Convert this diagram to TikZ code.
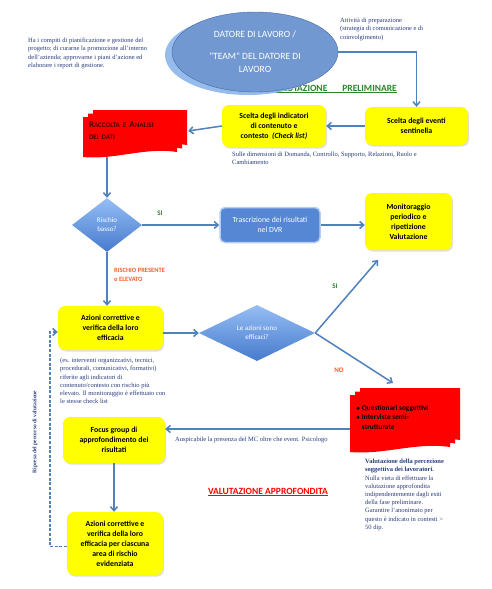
\documentclass[tikz,border=0pt]{standalone}
\usepackage{fontspec}
\setmainfont{Liberation Serif}
\newfontfamily\boxfont{Carlito}
\usetikzlibrary{shapes.geometric, arrows.meta, positioning, calc, shadows}

\definecolor{boxyellow}{RGB}{255, 255, 0}
\definecolor{flowblue}{RGB}{79, 129, 189}
\definecolor{ellblue}{RGB}{113, 152, 208}
\definecolor{ellline}{RGB}{70, 105, 165}
\definecolor{ellshade}{RGB}{150, 188, 236}
\definecolor{diamtop}{RGB}{150, 190, 245}
\definecolor{diambot}{RGB}{70, 122, 205}
\definecolor{dvrblue}{RGB}{85, 135, 212}
\definecolor{dvrline}{RGB}{180, 205, 240}
\definecolor{noteblue}{RGB}{40, 60, 125}
\definecolor{okgreen}{RGB}{40, 135, 40}
\definecolor{warnorange}{RGB}{245, 95, 45}
\definecolor{docred}{RGB}{255, 0, 0}
\definecolor{doctext}{RGB}{70, 0, 0}

\newcommand{\smc}[1]{{\fontsize{7}{12}\selectfont #1}}

\tikzset{
  yellowbox/.style={fill=boxyellow, rounded corners=7pt, align=center, inner sep=2pt,
    font=\boxfont\bfseries\fontsize{7.8}{10}\selectfont,
    drop shadow={opacity=0.25, shadow xshift=1pt, shadow yshift=-1.5pt}},
  dvrbox/.style={draw=dvrline, line width=1.5pt, fill=dvrblue, rounded corners=5pt, align=center,
    text=white, font=\boxfont\fontsize{7.8}{10}\selectfont},
  decision/.style={diamond, top color=diamtop, bottom color=diambot, inner sep=0pt, align=center,
    text=white, font=\boxfont\fontsize{7}{9}\selectfont},
  notetext/.style={align=left, inner sep=0pt, text=noteblue, font=\fontsize{6.5}{8.2}\selectfont},
  doclabel/.style={align=left, inner sep=0pt, font=\boxfont\bfseries\fontsize{7.3}{9.5}\selectfont},
  phasetitle/.style={inner sep=0pt, font=\boxfont\bfseries\fontsize{9.5}{11}\selectfont},
  choice/.style={inner sep=0pt, align=left, font=\boxfont\bfseries\fontsize{7}{8.5}\selectfont},
  flow/.style={draw=flowblue, line width=1.5pt, -{Straight Barb[length=4pt, width=7pt]}},
  backflow/.style={flow, dash pattern=on 3pt off 1.6pt},
  pics/docstack/.style args={#1/#2}{code={
    \foreach \o in {2,1,0}{
      \pgfmathsetmacro{\ox}{5*\o}
      \pgfmathsetmacro{\oy}{7-3.5*\o}
      \fill[docred] (\ox,\oy) -- ({\ox+#1-10},\oy) -- ({\ox+#1-10},{\oy+#2-12})
        .. controls ({\ox+0.65*(#1-10)},{\oy+#2-17}) and ({\ox+0.35*(#1-10)},{\oy+#2-4}) .. (\ox,{\oy+#2-7}) -- cycle;
    }
  }}
}

\begin{document}
\begin{tikzpicture}[x=1pt, y=-1pt]
  % sfondo e margini
  \fill[white] (0,0) rectangle (491,589);
  \useasboundingbox (0,0) rectangle (491,589);

  % fase preliminare
  \node[phasetitle, text=okgreen, anchor=east] (prelim) at (397,89) {\underline{VALUTAZIONE\hspace{15pt}PRELIMINARE}};

  % datore di lavoro
  \node[ellipse, fill=ellshade, minimum width=166pt, minimum height=80pt] (datoreombra) at (248,55) {};
  \node[ellipse, draw=ellline, fill=ellblue, minimum width=166pt, minimum height=80pt, inner sep=0pt,
    align=center, text=white, font=\boxfont\fontsize{9.6}{13}\selectfont] (datore) at (255,52)
    {DATORE DI LAVORO /\\[9pt] "TEAM" DEL DATORE DI\\ LAVORO};

  \node[notetext, anchor=north west] (compiti) at (28,38) {Ha i compiti di pianificazione e gestione del\\
    progetto; di curarne la promozione all'interno\\
    dell'azienda; approvarne i piani d'azione ed\\
    elaborare i report di gestione.};
  \node[notetext, anchor=north west] (attivita) at (340,18) {Attività di preparazione\\
    (strategia di comunicazione e di\\
    coinvolgimento)};

  % scelta eventi e indicatori
  \node[yellowbox, minimum width=103pt, minimum height=38pt] (sentinella) at (416.5,126) {Scelta degli eventi\\ sentinella};
  \node[yellowbox, minimum width=104pt, minimum height=42pt] (indicatori) at (274,126)
    {Scelta degli indicatori\\ di contenuto e\\ contesto\ \ \textit{(Check list)}};
  \node[notetext, anchor=north west] (dimensioni) at (232,152)
    {Sulle dimensioni di Domanda, Controllo, Supporto, Relazioni, Ruolo e\\ Cambiamento};

  % raccolta e analisi
  \pic at (83,110) {docstack={104/47}};
  \node[doclabel, text=doctext, text width=94pt, minimum height=52pt, inner xsep=5pt,
    font=\boxfont\bfseries\fontsize{9}{12}\selectfont] (raccolta) at (136,131)
    {R\smc{ACCOLTA E} A\smc{NALISI}\\ \smc{DEI DATI}};

  % rischio basso?
  \node[decision, minimum width=70pt, minimum height=54pt] (rischio) at (107,225) {Rischio\\ basso?};
  \node[dvrbox, minimum width=100pt, minimum height=35pt] (dvr) at (270,225) {Trascrizione dei risultati\\ nel DVR};
  \node[yellowbox, minimum width=87pt, minimum height=57pt] (monitoraggio) at (408.5,221.5)
    {Monitoraggio\\ periodico e\\ ripetizione\\ Valutazione};
  \node[choice, text=okgreen] (si1) at (160,213) {SI};
  \node[choice, text=warnorange, anchor=north west, font=\boxfont\bfseries\fontsize{6.5}{9}\selectfont] (presente) at (114,268)
    {RISCHIO PRESENTE\\ o ELEVATO};

  % azioni correttive
  \node[yellowbox, minimum width=105pt, minimum height=44pt] (azioni) at (110.5,328)
    {Azioni correttive e\\ verifica della loro\\ efficacia};
  \node[notetext, anchor=north west] (esempi) at (60,358) {(es. interventi organizzativi, tecnici,\\
    procedurali, comunicativi, formativi)\\
    riferite agli indicatori di\\
    contenuto/contesto con rischio più\\
    elevato. Il monitoraggio è effettuato con\\
    le stesse check list};
  \node[decision, minimum width=116pt, minimum height=56pt] (efficaci) at (257,333) {Le azioni sono\\ efficaci?};
  \node[choice, text=okgreen] (si2) at (335,286) {SI};
  \node[choice, text=warnorange] (no) at (339,370) {NO};
  \coordinate (siend) at (378,260);
  \coordinate (noend) at (393,383);

  % valutazione approfondita
  \pic at (350,388) {docstack={110/64}};
  \node[doclabel, anchor=north west] (questionari) at (356,405)
    {$\bullet$ Questionari soggettivi\\ $\bullet$ Interviste semi-\\ \phantom{$\bullet$} strutturate};
  \coordinate (qleft) at (350,429);
  \node[yellowbox, minimum width=102pt, minimum height=46pt] (focus) at (114,440)
    {Focus group di\\ approfondimento dei\\ risultati};
  \node[notetext, anchor=north west] (auspicabile) at (175,437)
    {Auspicabile la presenza del MC oltre che event. Psicologo};
  \node[notetext, anchor=north west] (percezione) at (365,459) {\textbf{Valutazione della percezione}\\
    \textbf{soggettiva dei lavoratori.}\\
    Nulla vieta di effettuare la\\
    valutazione approfondita\\
    indipendentemente dagli esiti\\
    della fase preliminare.\\
    Garantire l'anonimato per\\
    questo è indicato in contesti >\\
    50 dip.};
  \node[phasetitle, text=red] (approf) at (268,492) {\underline{VALUTAZIONE APPROFONDITA}};
  \node[yellowbox, minimum width=96pt, minimum height=63pt] (finali) at (115,543.5)
    {Azioni correttive e\\ verifica della loro\\ efficacia per ciascuna\\ area di rischio\\ evidenziata};
  \node[notetext, rotate=90, font=\bfseries\fontsize{5.5}{7}\selectfont] (ripresa) at (35,432)
    {Ripresa del percorso di valutazione};

  % connettori
  \draw[flow] (datore.east) -| (sentinella.north);
  \draw[flow] (sentinella.west) -- (indicatori.east);
  \draw[flow] (indicatori.west) -- (raccolta.east);
  \draw[flow] (raccolta.south -| rischio.north) -- (rischio.north);
  \draw[flow] (rischio.east) -- (dvr.west);
  \draw[flow] (dvr.east) -- (dvr.east -| monitoraggio.west);
  \draw[flow] (rischio.south) -- (rischio.south |- azioni.north);
  \draw[flow] (azioni.east |- efficaci.west) -- (efficaci.west);
  \draw[flow] (efficaci.east) -- (siend);
  \draw[flow] (efficaci.east) -- (noend);
  \draw[flow] (qleft) -- (qleft -| focus.east);
  \draw[flow] (focus.south) -- (focus.south |- finali.north);
  \draw[backflow] ([yshift=-3pt]finali.west) -- ++(-17,0) |- ([yshift=-4pt]azioni.west);
\end{tikzpicture}
\end{document}
